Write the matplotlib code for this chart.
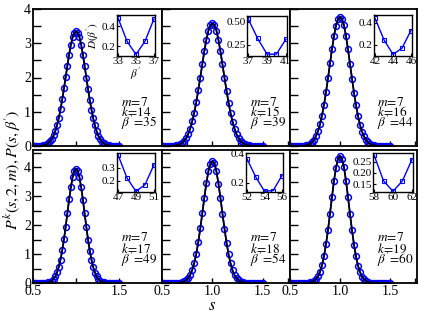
import numpy as np
import matplotlib
matplotlib.use('Agg')
import matplotlib.pyplot as plt
from matplotlib.ticker import FixedLocator, MultipleLocator

plt.rcParams['font.family'] = 'serif'
plt.rcParams['font.serif'] = ['Liberation Serif', 'DejaVu Serif']
plt.rcParams['mathtext.fontset'] = 'stix'

# s values of the sampled distributions
s = [0.50, 0.52, 0.54, 0.56, 0.58, 0.60, 0.62, 0.64, 0.66, 0.68,
     0.70, 0.72, 0.74, 0.76, 0.78, 0.80, 0.82, 0.84, 0.86, 0.88,
     0.90, 0.92, 0.94, 0.96, 0.98, 1.00, 1.02, 1.04, 1.06, 1.08,
     1.10, 1.12, 1.14, 1.16, 1.18, 1.20, 1.22, 1.24, 1.26, 1.28,
     1.30, 1.32, 1.34, 1.36, 1.38, 1.40, 1.42, 1.44, 1.46, 1.48, 1.50]

k_vals = [14, 15, 16, 17, 18, 19]
beta_best = [35, 39, 44, 49, 54, 60]

P14 = [0.0, 0.001, 0.002, 0.003, 0.006, 0.012, 0.02, 0.034, 0.056, 0.09,
       0.14, 0.21, 0.31, 0.44, 0.61, 0.82, 1.07, 1.36, 1.68, 2.01,
       2.35, 2.67, 2.95, 3.17, 3.30, 3.35, 3.31, 3.18, 2.96, 2.67,
       2.34, 2.00, 1.66, 1.35, 1.06, 0.81, 0.60, 0.43, 0.30, 0.20,
       0.13, 0.085, 0.053, 0.032, 0.019, 0.011, 0.006, 0.003, 0.002, 0.001, 0.0]
P15 = [0.0, 0.0, 0.001, 0.002, 0.003, 0.006, 0.011, 0.019, 0.034, 0.058,
       0.095, 0.15, 0.235, 0.35, 0.51, 0.72, 0.97, 1.28, 1.63, 2.00,
       2.39, 2.77, 3.10, 3.36, 3.52, 3.58, 3.53, 3.37, 3.10, 2.76,
       2.38, 1.99, 1.62, 1.27, 0.96, 0.71, 0.50, 0.34, 0.23, 0.145,
       0.09, 0.055, 0.032, 0.018, 0.01, 0.006, 0.003, 0.002, 0.001, 0.0, 0.0]
P16 = [0.0, 0.0, 0.0, 0.0, 0.001, 0.003, 0.006, 0.012, 0.022, 0.039,
       0.068, 0.11, 0.18, 0.29, 0.43, 0.63, 0.89, 1.20, 1.57, 1.98,
       2.41, 2.83, 3.21, 3.51, 3.70, 3.77, 3.71, 3.52, 3.21, 2.82,
       2.40, 1.97, 1.56, 1.19, 0.88, 0.62, 0.42, 0.28, 0.175, 0.105,
       0.065, 0.037, 0.021, 0.011, 0.006, 0.003, 0.001, 0.0, 0.0, 0.0, 0.0]
P17 = [0.0, 0.0, 0.0, 0.0, 0.0, 0.001, 0.003, 0.007, 0.014, 0.026,
       0.048, 0.085, 0.14, 0.23, 0.37, 0.56, 0.81, 1.13, 1.51, 1.95,
       2.42, 2.89, 3.31, 3.65, 3.87, 3.95, 3.88, 3.66, 3.31, 2.88,
       2.41, 1.94, 1.50, 1.12, 0.80, 0.55, 0.36, 0.225, 0.135, 0.08,
       0.045, 0.025, 0.013, 0.006, 0.003, 0.001, 0.0, 0.0, 0.0, 0.0, 0.0]
P18 = [0.0, 0.0, 0.0, 0.0, 0.0, 0.0, 0.001, 0.003, 0.006, 0.014,
       0.027, 0.052, 0.096, 0.17, 0.28, 0.45, 0.69, 1.01, 1.41, 1.89,
       2.41, 2.95, 3.45, 3.86, 4.13, 4.22, 4.14, 3.86, 3.44, 2.94,
       2.40, 1.88, 1.40, 1.00, 0.68, 0.44, 0.27, 0.16, 0.09, 0.05,
       0.026, 0.013, 0.006, 0.003, 0.001, 0.0, 0.0, 0.0, 0.0, 0.0, 0.0]
P19 = [0.0, 0.0, 0.0, 0.0, 0.0, 0.0, 0.001, 0.002, 0.004, 0.009,
       0.018, 0.037, 0.072, 0.13, 0.23, 0.39, 0.61, 0.93, 1.34, 1.83,
       2.40, 2.98, 3.54, 3.99, 4.29, 4.40, 4.30, 4.00, 3.54, 2.97,
       2.39, 1.82, 1.33, 0.92, 0.60, 0.38, 0.22, 0.125, 0.07, 0.036,
       0.017, 0.008, 0.004, 0.002, 0.001, 0.0, 0.0, 0.0, 0.0, 0.0, 0.0]
P_all = [P14, P15, P16, P17, P18, P19]

# inset data: D(beta') against beta'
beta14 = [33, 34, 35, 36, 37]
D14 = [0.48, 0.25, 0.12, 0.25, 0.47]
beta15 = [37, 38, 39, 40, 41]
D15 = [0.53, 0.32, 0.15, 0.15, 0.31]
beta16 = [42, 43, 44, 45, 46]
D16 = [0.44, 0.245, 0.115, 0.17, 0.33]
beta17 = [47, 48, 49, 50, 51]
D17 = [0.395, 0.22, 0.12, 0.17, 0.32]
beta18 = [52, 53, 54, 55, 56]
D18 = [0.36, 0.24, 0.145, 0.15, 0.25]
beta19 = [58, 59, 60, 61, 62]
D19 = [0.28, 0.164, 0.117, 0.164, 0.26]
beta_all = [beta14, beta15, beta16, beta17, beta18, beta19]
D_all = [D14, D15, D16, D17, D18, D19]

inset_ylim = [(0.105, 0.51), (0.13, 0.56), (0.10, 0.47),
              (0.115, 0.41), (0.14, 0.40), (0.114, 0.29)]
inset_yticks = [[0.2, 0.4], [0.25, 0.5], [0.2, 0.4],
                [0.2, 0.3], [0.2, 0.4], [0.15, 0.2, 0.25]]
inset_ylabels = [['0.2', '0.4'], ['0.25', '0.50'], ['0.2', '0.4'],
                 ['0.2', '0.3'], ['0.2', '0.4'], ['0.15', '0.20', '0.25']]

W, H = 423, 315
fig = plt.figure(figsize=(W / 100, H / 100), dpi=100)

def px_axes(x0, y0, x1, y1):
    # pixel box (left, top, right, bottom) -> figure axes
    return fig.add_axes([x0 / W, 1 - y1 / H, (x1 - x0) / W, (y1 - y0) / H])

cols = [(33, 162), (162, 290), (290, 417)]
rows = [(9, 146), (150, 283)]
insets = [(117, 15, 155, 56), (247, 16, 287, 56), (374, 15, 412, 56),
          (117, 153, 155, 192), (246, 153, 283, 192), (373, 153, 413, 192)]

blue = '#0000ff'

for i in range(6):
    r, c = divmod(i, 3)
    ax = px_axes(cols[c][0], rows[r][0], cols[c][1], rows[r][1])

    ax.plot(s, P_all[i], '-o', color=blue, lw=1.2, ms=4.2, mfc='none',
            mec=blue, mew=1.1, zorder=2)
    ax.plot(s, P_all[i], '-', color='k', lw=1.2, zorder=3)

    if c == 0:
        ax.set_xlim(0.5, 2.0)
        ax.xaxis.set_major_locator(FixedLocator([0.5, 1.0, 1.5]))
        ax.set_xticklabels(['0.5', '', '1.5'])
    else:
        ax.set_xlim(0.5, 1.77)
        ax.xaxis.set_major_locator(FixedLocator([0.5, 1.0, 1.5]))
        ax.xaxis.set_minor_locator(FixedLocator([0.75, 1.25, 1.75]))
        ax.set_xticklabels(['0.5', '1.0', '1.5'])
    if r == 0:
        ax.set_ylim(0, 4)
        ax.tick_params(axis='x', labelbottom=False)
    else:
        ax.set_ylim(0, 4.6)
    ax.yaxis.set_major_locator(MultipleLocator(1))
    ax.yaxis.set_minor_locator(MultipleLocator(0.5))
    if c != 0:
        ax.tick_params(axis='y', labelleft=False)

    ax.tick_params(which='both', direction='in', labelsize=10, pad=1.5)
    ax.tick_params(axis='y', which='both', length=5.5, width=1)
    ax.tick_params(axis='x', which='both', length=3.5, width=1)
    for sp in ax.spines.values():
        sp.set_linewidth(1.3)

    ty = [0.32, 0.245, 0.165] if r == 0 else [0.34, 0.255, 0.17]
    ax.text(0.685, ty[0], r'$m\!=\!7$', transform=ax.transAxes, fontsize=9.5,
            va='center', ha='left')
    ax.text(0.685, ty[1], r'$k\!=\!%d$' % k_vals[i], transform=ax.transAxes,
            fontsize=9.5, va='center', ha='left')
    ax.text(0.685, ty[2], r'$\beta^{\prime}\!=\!%d$' % beta_best[i],
            transform=ax.transAxes, fontsize=9.5, va='center', ha='left')

    # inset with D(beta')
    ia = px_axes(*insets[i])
    ia.plot(beta_all[i], D_all[i], '-s', color=blue, lw=1.0, ms=3.2,
            mfc='none', mec=blue, mew=0.8)
    b = beta_all[i]
    ia.set_xlim(b[0] - 0.12, b[-1] + 0.12)
    ia.xaxis.set_major_locator(FixedLocator([b[0], b[2], b[4]]))
    ia.set_ylim(*inset_ylim[i])
    ia.yaxis.set_major_locator(FixedLocator(inset_yticks[i]))
    ia.set_yticklabels(inset_ylabels[i])
    ia.tick_params(which='both', direction='in', length=2, width=0.8,
                   labelsize=8, pad=1)
    for sp in ia.spines.values():
        sp.set_linewidth(1.0)
    if i == 0:
        ia.set_ylabel(r"$D(\beta^{\prime})$", fontsize=8, labelpad=0)
        ia.set_xlabel(r"$\beta^{\prime}$", fontsize=8, labelpad=0)

fig.text(11 / W, 1 - 170 / H, r"$P^k(s,2,m), P(s,\beta^{\prime})$",
         rotation=90, fontsize=11.5, ha='center', va='center')
fig.text(212 / W, 1 - 306 / H, r"$s$", fontsize=12, ha='center',
         va='center')

fig.savefig('out.png', dpi=100)
